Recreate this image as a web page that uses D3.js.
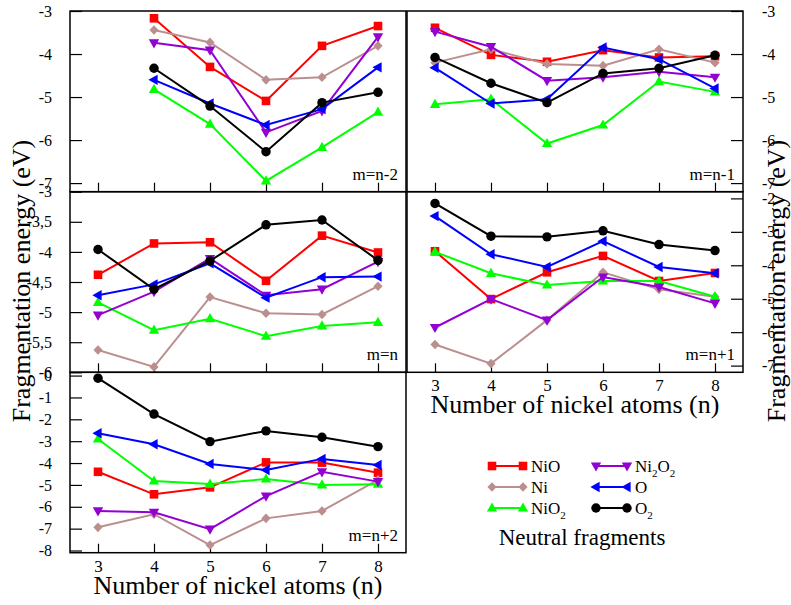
<!DOCTYPE html>
<html>
<head>
<meta charset="utf-8">
<script src="https://cdn.jsdelivr.net/npm/d3@7"></script>
<style>
  body { margin: 0; background: #fff; }
  text { font-family: "Liberation Serif", "Times New Roman", serif; fill: #000; }
</style>
</head>
<body>
<svg id="chart" width="791" height="605"></svg>
<script>
// number of Ni atoms on the x axis
var nAtoms = [3, 4, 5, 6, 7, 8]
var fragments = ["NiO", "Ni", "NiO2", "Ni2O2", "O", "O2"]

// fragmentation energies (eV), one small table per panel, null = no point
var E_nMinus2 = {
    NiO:   [null, -3.17, -4.30, -5.09, -3.81, -3.35],
    Ni:    [null, -3.44, -3.73, -4.60, -4.54, -3.81],
    NiO2:  [null, -4.82, -5.63, -6.95, -6.17, -5.35],
    Ni2O2: [null, -3.74, -3.91, -5.82, -5.32, -3.60],
    O:     [null, -4.60, -5.15, -5.65, -5.28, -4.31],
    O2:    [null, -4.33, -5.21, -6.27, -5.13, -4.89]
}
var E_nMinus1 = {
    NiO:   [-3.39, -4.02, -4.18, -3.91, -4.08, -4.05],
    Ni:    [-4.20, -3.89, -4.23, -4.27, -3.89, -4.20],
    NiO2:  [-5.17, -5.05, -6.08, -5.65, -4.64, -4.88],
    Ni2O2: [-3.48, -3.83, -4.62, -4.54, -4.41, -4.54],
    O:     [-4.32, -5.15, -5.05, -3.85, -4.12, -4.80],
    O2:    [-4.08, -4.68, -5.13, -4.45, -4.33, -4.03]
}
var E_n = {
    NiO:   [-4.38, -3.86, -3.84, -4.48, -3.73, -4.01],
    Ni:    [-5.63, -5.91, -4.75, -5.02, -5.04, -4.57],
    NiO2:  [-4.84, -5.30, -5.11, -5.40, -5.23, -5.17],
    Ni2O2: [-5.05, -4.66, -4.11, -4.72, -4.62, -4.16],
    O:     [-4.72, -4.54, -4.19, -4.76, -4.42, -4.41],
    O2:    [-3.96, -4.62, -4.15, -3.55, -3.47, -4.14]
}
var E_nPlus1 = {
    NiO:   [-3.58, -5.01, -4.21, -3.72, -4.47, -4.23],
    Ni:    [-6.37, -6.94, -5.64, -4.21, -4.72, -4.94],
    NiO2:  [-3.60, -4.24, -4.59, -4.47, -4.47, -4.94],
    Ni2O2: [-5.86, -5.01, -5.64, -4.35, -4.65, -5.14],
    O:     [-2.53, -3.67, -4.05, -3.28, -4.05, -4.24],
    O2:    [-2.15, -3.13, -3.15, -2.97, -3.38, -3.56]
}
var E_nPlus2 = {
    NiO:   [-4.40, -5.43, -5.11, -3.97, -3.98, -4.44],
    Ni:    [-6.94, -6.34, -7.75, -6.53, -6.19, -4.77],
    NiO2:  [-2.90, -4.82, -4.96, -4.73, -5.00, -4.97],
    Ni2O2: [-6.19, -6.25, -7.02, -5.51, -4.40, -4.85],
    O:     [-2.64, -3.14, -4.04, -4.32, -3.81, -4.09],
    O2:    [-0.12, -1.76, -3.02, -2.53, -2.82, -3.25]
}

// tick labels
var yTicksTop = [-3, -4, -5, -6, -7]
var yTicksN = [-3, -3.5, -4, -4.5, -5, -5.5, -6]
var yTicksNp1 = [-2, -3, -4, -5, -6, -7]
var yTicksNp2 = [0, -1, -2, -3, -4, -5, -6, -7, -8]

var colors = { NiO: "#ff0000", Ni: "#bc8f8f", NiO2: "#00ff00", Ni2O2: "#9400d3", O: "#0000ff", O2: "#000000" }
var shapes = { NiO: "square", Ni: "diamond", NiO2: "up", Ni2O2: "down", O: "left", O2: "circle" }

var svg = d3.select("#chart")

var panels = [
    { label: "m=n-2", data: E_nMinus2, x0: 70, x1: 406, y0: 11, y1: 191.7, dom: [-7.2, -3], ticks: yTicksTop, side: "left", xlab: false },
    { label: "m=n-1", data: E_nMinus1, x0: 407, x1: 743, y0: 11, y1: 191.7, dom: [-7.2, -3], ticks: yTicksTop, side: "right", xlab: false },
    { label: "m=n", data: E_n, x0: 70, x1: 406, y0: 191.7, y1: 372.3, dom: [-6, -3], ticks: yTicksN, side: "left", xlab: false },
    { label: "m=n+1", data: E_nPlus1, x0: 407, x1: 743, y0: 191.7, y1: 372.3, dom: [-7.2, -1.8], ticks: yTicksNp1, side: "right", xlab: true },
    { label: "m=n+2", data: E_nPlus2, x0: 70, x1: 406, y0: 372.3, y1: 552.7, dom: [-8.1, 0.15], ticks: yTicksNp2, side: "left", xlab: true }
]

function symbolPath(shape) {
    if (shape == "square") return "M-4.3,-4.3h8.6v8.6h-8.6Z"
    if (shape == "diamond") return "M0,-4.8L4.6,0L0,4.8L-4.6,0Z"
    if (shape == "up") return "M0,-5.6L5.2,3.6L-5.2,3.6Z"
    if (shape == "down") return "M0,5.6L5.2,-3.6L-5.2,-3.6Z"
    if (shape == "left") return "M-5.6,0L3.6,-5.2L3.6,5.2Z"
    return d3.symbol(d3.symbolCircle, 70)()
}

var fmt = function(d) { return String(d).replace(".", ",") }

panels.forEach(function(p) {
    var x = d3.scaleLinear().domain([2.5, 8.5]).range([p.x0, p.x1])
    var y = d3.scaleLinear().domain(p.dom).range([p.y1, p.y0])
    var g = svg.append("g")

    // y axis ticks (inward) and labels
    var yAxis = p.side == "left"
        ? d3.axisLeft(y).tickValues(p.ticks).tickSizeInner(-12).tickSizeOuter(0).tickPadding(18).tickFormat(fmt)
        : d3.axisRight(y).tickValues(p.ticks).tickSizeInner(-12).tickSizeOuter(0).tickPadding(19).tickFormat(fmt)
    var ya = g.append("g")
        .attr("transform", "translate(" + (p.side == "left" ? p.x0 : p.x1) + ",0)")
        .call(yAxis)
    ya.select(".domain").remove()
    ya.selectAll("line").attr("stroke", "#000").attr("stroke-width", 1.2)
    ya.selectAll("text").style("font-family", "Liberation Serif").style("font-size", "16px").attr("fill", "#000")

    // x axis ticks (inward) at the bottom
    var xa = g.append("g")
        .attr("transform", "translate(0," + p.y1 + ")")
        .call(d3.axisBottom(x).tickValues(nAtoms).tickSizeInner(-9).tickSizeOuter(0).tickPadding(7)
            .tickFormat(p.xlab ? d3.format("d") : ""))
    xa.select(".domain").remove()
    xa.selectAll("line").attr("stroke", "#000").attr("stroke-width", 1.2)
    xa.selectAll("text").style("font-family", "Liberation Serif").style("font-size", "17px").attr("fill", "#000")

    // frame
    g.append("rect")
        .attr("x", p.x0).attr("y", p.y0)
        .attr("width", p.x1 - p.x0).attr("height", p.y1 - p.y0)
        .attr("fill", "none").attr("stroke", "#000").attr("stroke-width", 1.5)

    // series
    var line = d3.line()
        .defined(function(d) { return d[1] != null })
        .x(function(d) { return x(d[0]) })
        .y(function(d) { return y(d[1]) })
    fragments.forEach(function(f) {
        var pts = nAtoms.map(function(n, i) { return [n, p.data[f][i]] })
        g.append("path")
            .attr("d", line(pts))
            .attr("fill", "none")
            .attr("stroke", colors[f])
            .attr("stroke-width", 2)
        g.selectAll(null)
            .data(pts.filter(function(d) { return d[1] != null }))
            .enter().append("path")
            .attr("d", symbolPath(shapes[f]))
            .attr("transform", function(d) { return "translate(" + x(d[0]) + "," + y(d[1]) + ")" })
            .attr("fill", colors[f])
    })

    g.append("text")
        .attr("x", p.x1 - 8).attr("y", p.y1 - 12)
        .attr("text-anchor", "end")
        .style("font-size", "17px")
        .text(p.label)

    if (p.xlab) {
        g.append("text")
            .attr("x", (p.x0 + p.x1) / 2).attr("y", p.y1 + 41)
            .attr("text-anchor", "middle")
            .style("font-size", "26px")
            .text("Number of nickel atoms (n)")
    }
})

// y titles
svg.append("text")
    .attr("transform", "translate(30,281) rotate(-90)")
    .attr("text-anchor", "middle")
    .style("font-size", "26px")
    .text("Fragmentation energy (eV)")
svg.append("text")
    .attr("transform", "translate(785,281) rotate(-90)")
    .attr("text-anchor", "middle")
    .style("font-size", "26px")
    .text("Fragmentation energy (eV)")

// legend
function label(sel, f) {
    var parts = { NiO: [["NiO", 0]], Ni: [["Ni", 0]], NiO2: [["NiO", 0], ["2", 1]], Ni2O2: [["Ni", 0], ["2", 1], ["O", 0], ["2", 1]], O: [["O", 0]], O2: [["O", 0], ["2", 1]] }[f]
    var shift = 0
    parts.forEach(function(pt) {
        var dy = pt[1] ? 5 - shift : -shift
        shift += dy
        sel.append("tspan").attr("dy", dy).style("font-size", pt[1] ? "11px" : "17px").text(pt[0])
    })
}
var legX = [492, 596]
var legY = [466, 487, 508]
fragments.forEach(function(f, i) {
    var col = Math.floor(i / 3), row = i % 3
    var lx = legX[col], ly = legY[row]
    var lg = svg.append("g")
    lg.append("line")
        .attr("x1", lx).attr("x2", lx + 31).attr("y1", ly).attr("y2", ly)
        .attr("stroke", colors[f]).attr("stroke-width", 2)
    ;[lx, lx + 31].forEach(function(cx) {
        lg.append("path").attr("d", symbolPath(shapes[f]))
            .attr("transform", "translate(" + cx + "," + ly + ")")
            .attr("fill", colors[f])
    })
    var t = lg.append("text").attr("x", lx + 39).attr("y", ly + 6)
    label(t, f)
})
svg.append("text")
    .attr("x", 582).attr("y", 545)
    .attr("text-anchor", "middle")
    .style("font-size", "23px")
    .text("Neutral fragments")
</script>
</body>
</html>
